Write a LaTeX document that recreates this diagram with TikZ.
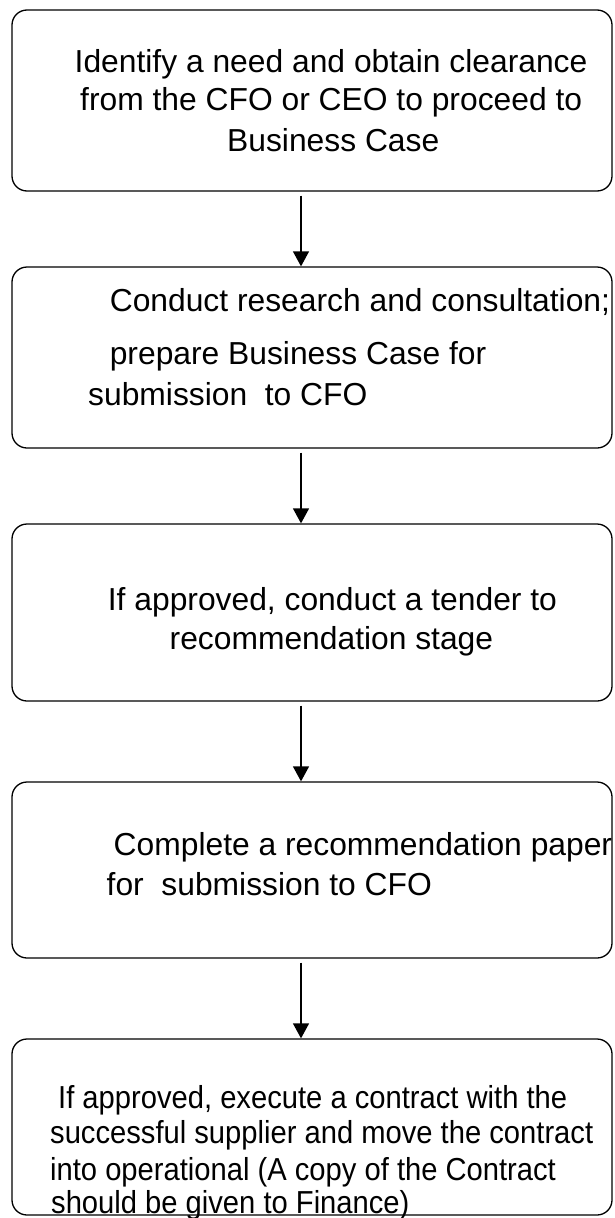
\documentclass[tikz,border=0pt]{standalone}
\usepackage{fontspec}
\setmainfont{Liberation Sans}
\usetikzlibrary{positioning}
\usetikzlibrary{arrows.meta}

\begin{document}
\begin{tikzpicture}[
x = 1pt, y = -1pt,
stage/.style = {draw, rounded corners = 15pt, line width = 1.3pt, minimum width = 600pt, inner sep = 0pt},
txt/.style = {anchor = base west, inner sep = 0pt, font = \fontsize{31.8}{38}\selectfont},
flow/.style = {-{Triangle[width = 16pt, length = 15pt]}, line width = 1.3pt, shorten <= 4pt}
]
\useasboundingbox (0,0) rectangle (614,1218);

% boxes
\node[stage, minimum height = 181pt] (b1) at (312,100.5) {};
\node[stage, minimum height = 181pt] (b2) at (312,357.5) {};
\node[stage, minimum height = 177pt] (b3) at (312,612.5) {};
\node[stage, minimum height = 176pt] (b4) at (312,870) {};
\node[stage, minimum height = 176pt] (b5) at (312,1127) {};

% texts
\node[txt] (t11) at (74.5,72.7) {Identify a need and obtain clearance};
\node[txt] (t12) at (80,110) {from the CFO or CEO to proceed to};
\node[txt] (t13) at (227,151.7) {Business Case};

\node[txt] (t21) at (109.6,311) {Conduct research and consultation;};
\node[txt] (t22) at (109.6,364) {prepare Business Case for};
\node[txt] (t23) at (88,405) {submission\ \ to CFO};

\node[txt] (t31) at (107.7,610.7) {If approved, conduct a tender to};
\node[txt] (t32) at (169.5,649) {recommendation stage};

\node[txt] (t41) at (113.5,855) {Complete a recommendation paper};
\node[txt] (t42) at (106.5,895) {for\ \ submission to CFO};

% last box is set narrower
\node[txt] (t51) at (58,1108) {\scalebox{0.917}[1]{If approved, execute a contract with the}};
\node[txt] (t52) at (50,1143) {\scalebox{0.917}[1]{successful supplier and move the contract}};
\node[txt] (t53) at (50,1180) {\scalebox{0.917}[1]{into operational (A copy of the Contract}};
\node[txt] (t54) at (51,1213) {\scalebox{0.917}[1]{should be given to Finance)}};

% arrows
\coordinate (ax) at (301,0);
\foreach \a/\b in {b1/b2, b2/b3, b3/b4, b4/b5}
  \draw[flow] (\a.south -| ax) -- (\b.north -| ax);
\end{tikzpicture}
\end{document}
